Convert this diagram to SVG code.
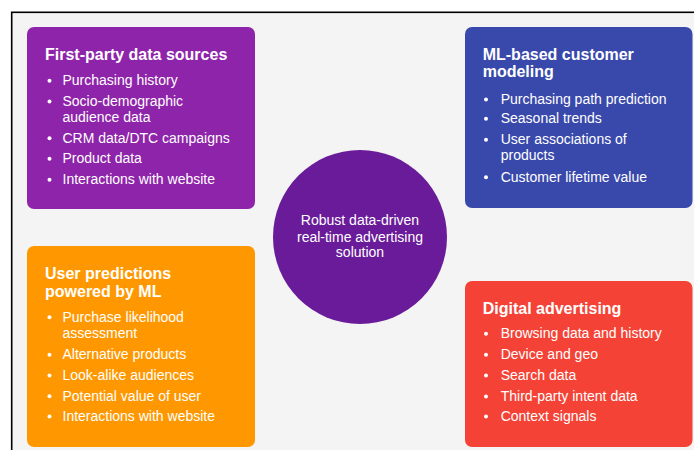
<svg xmlns="http://www.w3.org/2000/svg" width="694" height="450" viewBox="0 0 694 450">
  <style>
    .card { stroke: none; }
    .title { font-family: "Liberation Sans", Arial, sans-serif; font-size: 16px; font-weight: bold; fill: #ffffff; }
    .item { font-family: "Liberation Sans", Arial, sans-serif; font-size: 14px; fill: #ffffff; }
    .hub { font-family: "Liberation Sans", Arial, sans-serif; font-size: 14px; fill: #ffffff; text-anchor: middle; }
    .dot { fill: #ffffff; }
  </style>

  <!-- page background and frame -->
  <rect x="0" y="0" width="694" height="450" fill="#ffffff"/>
  <rect x="11.7" y="12.3" width="720" height="480" fill="#f4f4f4" stroke="#000000" stroke-width="1.6"/>

  <!-- First-party data sources -->
  <g id="first-party">
    <rect class="card" x="27" y="27" width="228" height="182" rx="7" fill="#8e24aa"/>
    <text class="title" x="45" y="60">First-party data sources</text>
    <g class="dot">
      <circle cx="49.5" cy="80.8" r="2"/>
      <circle cx="49.5" cy="101.5" r="2"/>
      <circle cx="49.5" cy="138.2" r="2"/>
      <circle cx="49.5" cy="158.8" r="2"/>
      <circle cx="49.5" cy="179.8" r="2"/>
    </g>
    <text class="item" x="62.5" y="85.3">Purchasing history</text>
    <text class="item" x="62.5" y="106">Socio-demographic</text>
    <text class="item" x="62.5" y="121.7">audience data</text>
    <text class="item" x="62.5" y="142.7">CRM data/DTC campaigns</text>
    <text class="item" x="62.5" y="163.3">Product data</text>
    <text class="item" x="62.5" y="184.3">Interactions with website</text>
  </g>

  <!-- ML-based customer modeling -->
  <g id="ml-modeling">
    <rect class="card" x="465" y="27" width="227.5" height="181" rx="7" fill="#3949ab"/>
    <text class="title" x="482.7" y="60">ML-based customer</text>
    <text class="title" x="482.7" y="77">modeling</text>
    <g class="dot">
      <circle cx="486" cy="99.5" r="2"/>
      <circle cx="486" cy="118.8" r="2"/>
      <circle cx="486" cy="139.8" r="2"/>
      <circle cx="486" cy="177.2" r="2"/>
    </g>
    <text class="item" x="500.7" y="104">Purchasing path prediction</text>
    <text class="item" x="500.7" y="123.3">Seasonal trends</text>
    <text class="item" x="500.7" y="144.3">User associations of</text>
    <text class="item" x="500.7" y="160">products</text>
    <text class="item" x="500.7" y="181.7">Customer lifetime value</text>
  </g>

  <!-- User predictions powered by ML -->
  <g id="user-predictions">
    <rect class="card" x="27" y="246" width="228" height="201" rx="7" fill="#ff9800"/>
    <text class="title" x="45" y="279">User predictions</text>
    <text class="title" x="45" y="297">powered by ML</text>
    <g class="dot">
      <circle cx="49.5" cy="317.2" r="2"/>
      <circle cx="49.5" cy="354.8" r="2"/>
      <circle cx="49.5" cy="375.5" r="2"/>
      <circle cx="49.5" cy="396.2" r="2"/>
      <circle cx="49.5" cy="416.5" r="2"/>
    </g>
    <text class="item" x="62.5" y="321.7">Purchase likelihood</text>
    <text class="item" x="62.5" y="338.3">assessment</text>
    <text class="item" x="62.5" y="359.3">Alternative products</text>
    <text class="item" x="62.5" y="380">Look-alike audiences</text>
    <text class="item" x="62.5" y="400.7">Potential value of user</text>
    <text class="item" x="62.5" y="421">Interactions with website</text>
  </g>

  <!-- Digital advertising -->
  <g id="digital-advertising">
    <rect class="card" x="465" y="281" width="227.5" height="166" rx="7" fill="#f44336"/>
    <text class="title" x="482.7" y="314">Digital advertising</text>
    <g class="dot">
      <circle cx="486" cy="333.8" r="2"/>
      <circle cx="486" cy="354.8" r="2"/>
      <circle cx="486" cy="375.5" r="2"/>
      <circle cx="486" cy="396.5" r="2"/>
      <circle cx="486" cy="416.5" r="2"/>
    </g>
    <text class="item" x="500.7" y="338.3">Browsing data and history</text>
    <text class="item" x="500.7" y="359.3">Device and geo</text>
    <text class="item" x="500.7" y="380">Search data</text>
    <text class="item" x="500.7" y="401">Third-party intent data</text>
    <text class="item" x="500.7" y="421">Context signals</text>
  </g>

  <!-- central hub -->
  <g id="hub">
    <circle cx="360" cy="237" r="87" fill="#6a1b9a"/>
    <text class="hub" x="360" y="225">Robust data-driven</text>
    <text class="hub" x="360" y="241.7">real-time advertising</text>
    <text class="hub" x="360" y="257.3">solution</text>
  </g>
</svg>
